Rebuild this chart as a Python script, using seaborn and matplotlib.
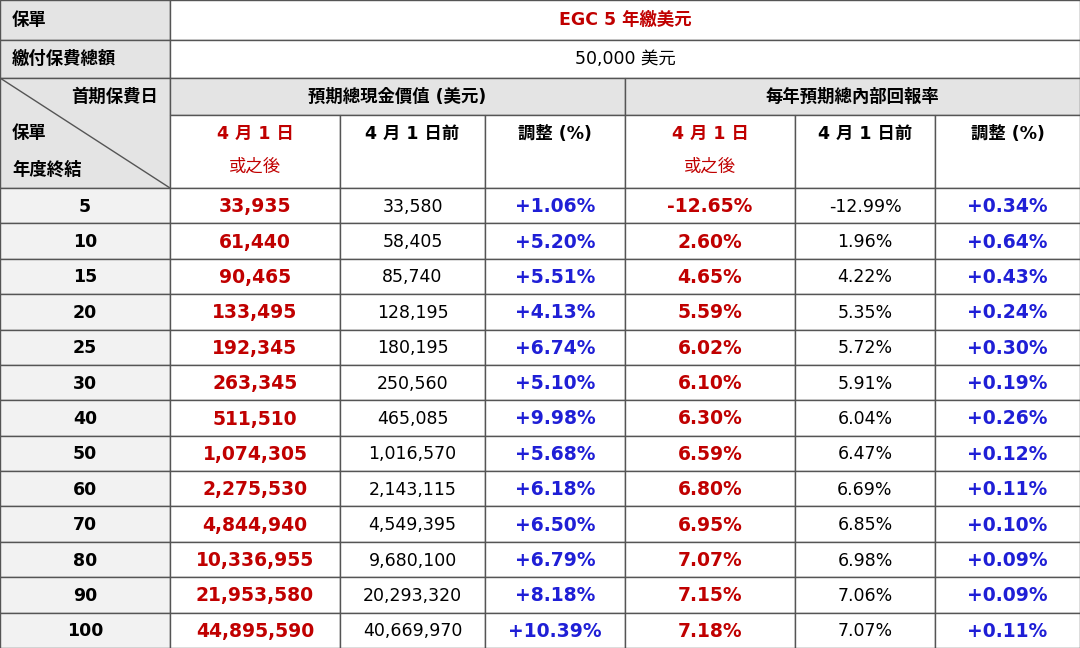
import seaborn as sns
import matplotlib.pyplot as plt
from matplotlib import font_manager
from matplotlib.patches import Rectangle

sns.set_theme(style="white")
installed = {f.name for f in font_manager.fontManager.ttflist}
cjk = [n for n in ["Noto Sans CJK TC", "Noto Sans CJK JP", "Noto Sans CJK SC",
                   "Noto Sans CJK KR", "Noto Sans CJK"] if n in installed]
cjk += [n for n in sorted(installed) if "CJK" in n and n not in cjk]
plt.rcParams["font.family"] = ["DejaVu Sans"] + cjk

years = ["5", "10", "15", "20", "25", "30", "40", "50", "60", "70", "80", "90", "100"]
cash_new = ["33,935", "61,440", "90,465", "133,495", "192,345", "263,345", "511,510",
            "1,074,305", "2,275,530", "4,844,940", "10,336,955", "21,953,580", "44,895,590"]
cash_old = ["33,580", "58,405", "85,740", "128,195", "180,195", "250,560", "465,085",
            "1,016,570", "2,143,115", "4,549,395", "9,680,100", "20,293,320", "40,669,970"]
cash_adj = ["+1.06%", "+5.20%", "+5.51%", "+4.13%", "+6.74%", "+5.10%", "+9.98%",
            "+5.68%", "+6.18%", "+6.50%", "+6.79%", "+8.18%", "+10.39%"]
irr_new = ["-12.65%", "2.60%", "4.65%", "5.59%", "6.02%", "6.10%", "6.30%",
           "6.59%", "6.80%", "6.95%", "7.07%", "7.15%", "7.18%"]
irr_old = ["-12.99%", "1.96%", "4.22%", "5.35%", "5.72%", "5.91%", "6.04%",
           "6.47%", "6.69%", "6.85%", "6.98%", "7.06%", "7.07%"]
irr_adj = ["+0.34%", "+0.64%", "+0.43%", "+0.24%", "+0.30%", "+0.19%", "+0.26%",
           "+0.12%", "+0.11%", "+0.10%", "+0.09%", "+0.09%", "+0.11%"]

RED, BLUE, GREY, LIGHT = "#c00000", "#1f1fd6", "#e4e4e4", "#f2f2f2"
xs = [0, 170, 340, 485, 625, 795, 935, 1080]
row_h = (648 - 188) / len(years)

fig = plt.figure(figsize=(10.8, 6.48), dpi=100)
ax = fig.add_axes([0, 0, 1, 1])
ax.set_xlim(0, 1080)
ax.set_ylim(648, 0)
ax.axis("off")


def cell(x0, x1, y0, y1, fc="white"):
    ax.add_patch(Rectangle((x0, y0), x1 - x0, y1 - y0, fc=fc, ec="#555555", lw=1))


def txt(x, y, s, color="black", weight="bold", ha="center", size=12.5):
    ax.text(x, y, s, color=color, fontweight=weight, ha=ha, va="center", fontsize=size)


# header rows
cell(0, 170, 0, 40, GREY)
cell(170, 1080, 0, 40)
txt(12, 20, "保單", ha="left")
txt(625, 20, "EGC 5 年繳美元", color=RED)
cell(0, 170, 40, 78, GREY)
cell(170, 1080, 40, 78)
txt(12, 59, "繳付保費總額", ha="left")
txt(625, 59, "50,000 美元", weight="normal")

cell(0, 170, 78, 188, GREY)
ax.plot([0, 170], [78, 188], color="#555555", lw=1)
txt(158, 97, "首期保費日", ha="right")
txt(12, 133, "保單", ha="left")
txt(12, 170, "年度終結", ha="left")
cell(170, 625, 78, 115, GREY)
cell(625, 1080, 78, 115, GREY)
txt(397, 97, "預期總現金價值 (美元)")
txt(852, 97, "每年預期總內部回報率")

for k in range(1, 7):
    cell(xs[k], xs[k + 1], 115, 188)
for k in (1, 4):
    cx = (xs[k] + xs[k + 1]) / 2
    txt(cx, 134, "4 月 1 日", color=RED)
    txt(cx, 167, "或之後", color=RED, weight="normal")
for k in (2, 5):
    txt((xs[k] + xs[k + 1]) / 2, 134, "4 月 1 日前")
for k in (3, 6):
    txt((xs[k] + xs[k + 1]) / 2, 134, "調整 (%)")

# data rows
cols = [(years, "black", "bold"), (cash_new, RED, "bold"), (cash_old, "black", "normal"),
        (cash_adj, BLUE, "bold"), (irr_new, RED, "bold"), (irr_old, "black", "normal"),
        (irr_adj, BLUE, "bold")]
for i in range(len(years)):
    y0 = 188 + i * row_h
    for k, (vals, color, weight) in enumerate(cols):
        cell(xs[k], xs[k + 1], y0, y0 + row_h, LIGHT if k == 0 else "white")
        txt((xs[k] + xs[k + 1]) / 2, y0 + row_h / 2 + 1, vals[i], color=color, weight=weight,
            size=13.5 if weight == "bold" and k else 12.5)

fig.savefig("out.png", dpi=100)
